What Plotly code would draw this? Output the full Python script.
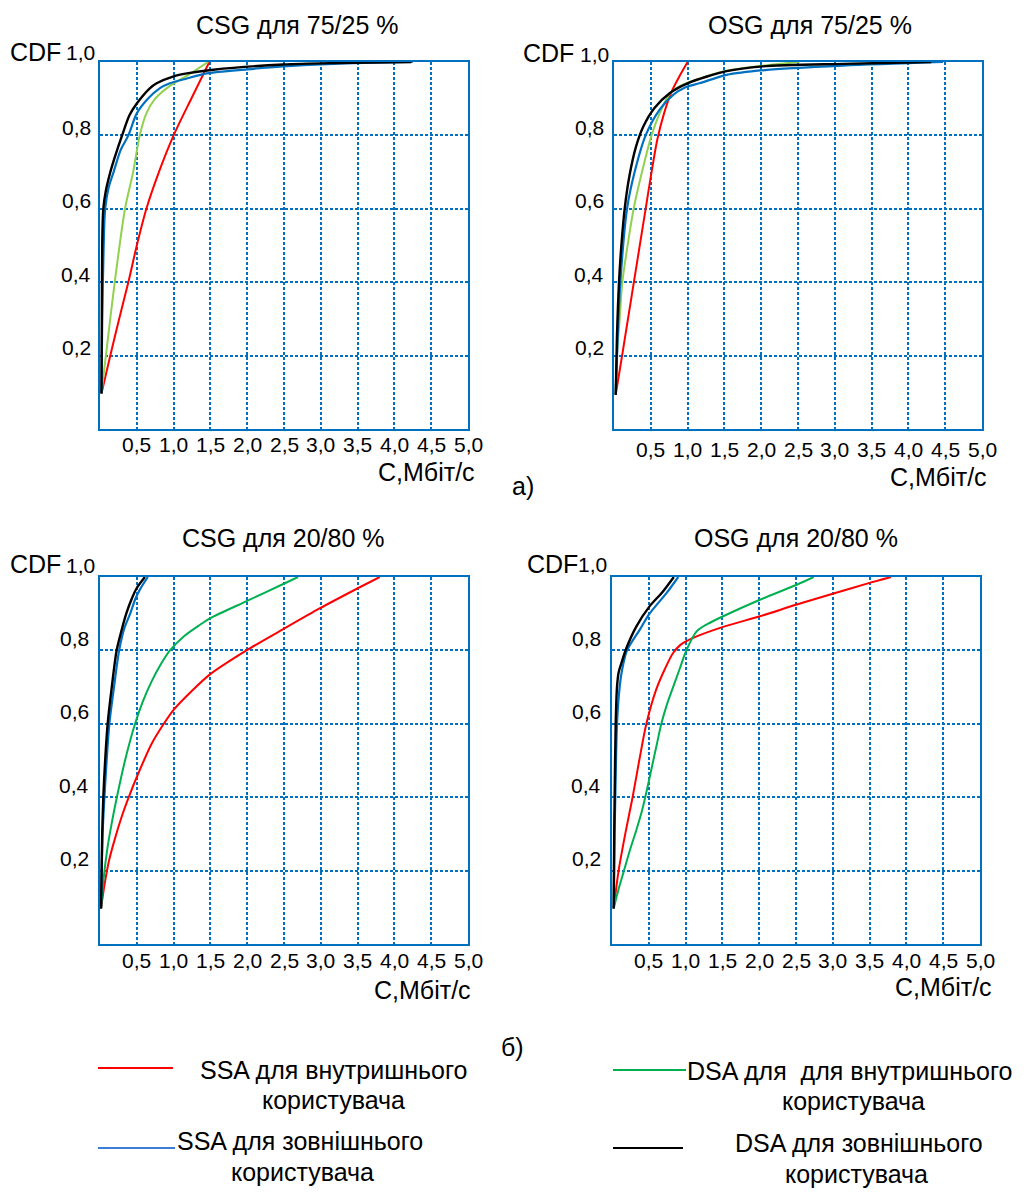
import plotly.graph_objects as go

# ---------------- data ----------------
# Panel a) CSG для 75/25 %
csg75_ssa_in_x = [0.02, 0.14, 0.26, 0.385, 0.5, 0.63, 0.8, 1.0, 1.24, 1.485]
csg75_ssa_in_y = [0.097, 0.2, 0.3, 0.4, 0.5, 0.6, 0.7, 0.8, 0.9, 1.0]
csg75_dsa_in_x = [0.02, 0.05, 0.08, 0.2, 0.34, 0.45, 0.54, 0.63, 0.75, 0.95, 1.2, 1.47]
csg75_dsa_in_y = [0.097, 0.15, 0.2, 0.4, 0.6, 0.7, 0.8, 0.86, 0.9, 0.935, 0.965, 1.0]
csg75_ssa_ex_x = [0.02, 0.03, 0.05, 0.07, 0.12, 0.18, 0.28, 0.385, 0.5, 0.65, 0.815, 0.95, 1.18, 1.45, 2.0, 2.49, 3.17, 4.25]
csg75_ssa_ex_y = [0.097, 0.3, 0.5, 0.6, 0.66, 0.697, 0.76, 0.8, 0.86, 0.9, 0.929, 0.942, 0.955, 0.969, 0.98, 0.988, 0.995, 1.0]
csg75_dsa_ex_x = [0.02, 0.025, 0.03, 0.045, 0.08, 0.136, 0.2, 0.3, 0.4, 0.5, 0.68, 0.77, 1.0, 1.18, 1.54, 2.49, 3.17, 4.23]
csg75_dsa_ex_y = [0.097, 0.3, 0.5, 0.6, 0.65, 0.697, 0.74, 0.8, 0.855, 0.887, 0.929, 0.942, 0.961, 0.969, 0.979, 0.993, 0.997, 1.0]

# Panel a) OSG для 75/25 %
osg75_ssa_in_x = [0.023, 0.11, 0.19, 0.27, 0.35, 0.43, 0.51, 0.59, 0.68, 0.78, 0.9, 1.0]
osg75_ssa_in_y = [0.093, 0.2, 0.3, 0.4, 0.5, 0.6, 0.7, 0.79, 0.86, 0.918, 0.965, 1.0]
osg75_dsa_in_x = [0.023, 0.04, 0.077, 0.113, 0.2, 0.267, 0.38, 0.51, 0.62, 0.756, 0.9, 1.12, 1.5, 2.02, 2.52]
osg75_dsa_in_y = [0.093, 0.2, 0.3, 0.4, 0.52, 0.6, 0.7, 0.8, 0.86, 0.913, 0.935, 0.952, 0.975, 0.99, 1.0]
osg75_ssa_ex_x = [0.023, 0.05, 0.086, 0.177, 0.28, 0.43, 0.62, 0.8, 0.98, 1.16, 1.53, 2.05, 3.11, 4.47]
osg75_ssa_ex_y = [0.093, 0.25, 0.4, 0.6, 0.7, 0.8, 0.87, 0.91, 0.932, 0.942, 0.965, 0.978, 0.99, 1.0]
osg75_dsa_ex_x = [0.023, 0.04, 0.068, 0.1, 0.145, 0.21, 0.3, 0.4, 0.55, 0.756, 1.0, 1.53, 2.02, 3.11, 4.31]
osg75_dsa_ex_y = [0.093, 0.25, 0.4, 0.5, 0.6, 0.69, 0.77, 0.825, 0.875, 0.915, 0.942, 0.975, 0.988, 0.995, 1.0]

# Panel б) CSG для 20/80 %
csg20_ssa_in_x = [0.014, 0.06, 0.12, 0.2, 0.3, 0.4, 0.5, 0.7, 0.86, 1.0, 1.25, 1.49, 1.99, 2.49, 2.99, 3.49, 3.8]
csg20_ssa_in_y = [0.097, 0.16, 0.225, 0.285, 0.35, 0.405, 0.455, 0.545, 0.598, 0.638, 0.69, 0.734, 0.8, 0.858, 0.915, 0.968, 1.0]
csg20_dsa_in_x = [0.014, 0.05, 0.1, 0.16, 0.24, 0.34, 0.476, 0.58, 0.7, 0.82, 0.95, 1.15, 1.36, 1.5, 2.0, 2.49, 2.69]
csg20_dsa_in_y = [0.097, 0.18, 0.26, 0.33, 0.41, 0.5, 0.6, 0.66, 0.715, 0.76, 0.8, 0.84, 0.87, 0.888, 0.935, 0.981, 1.0]
csg20_ssa_ex_x = [0.014, 0.035, 0.06, 0.09, 0.127, 0.19, 0.26, 0.33, 0.41, 0.48, 0.54, 0.65]
csg20_ssa_ex_y = [0.097, 0.3, 0.4, 0.5, 0.6, 0.7, 0.8, 0.86, 0.9, 0.94, 0.965, 1.0]
csg20_dsa_ex_x = [0.014, 0.03, 0.045, 0.07, 0.104, 0.16, 0.226, 0.3, 0.36, 0.43, 0.5, 0.61]
csg20_dsa_ex_y = [0.097, 0.3, 0.4, 0.5, 0.6, 0.7, 0.8, 0.86, 0.902, 0.94, 0.97, 1.0]

# Panel б) OSG для 20/80 %
osg20_ssa_in_x = [0.023, 0.09, 0.18, 0.28, 0.37, 0.467, 0.6, 0.72, 0.83, 0.93, 1.01, 1.15, 1.51, 2.01, 2.51, 3.01, 3.5, 3.79]
osg20_ssa_in_y = [0.097, 0.2, 0.3, 0.4, 0.5, 0.6, 0.693, 0.75, 0.793, 0.815, 0.825, 0.838, 0.864, 0.893, 0.925, 0.955, 0.984, 1.0]
osg20_dsa_in_x = [0.023, 0.09, 0.163, 0.25, 0.33, 0.41, 0.48, 0.55, 0.61, 0.67, 0.75, 0.83, 0.92, 1.01, 1.15, 1.3, 1.51, 2.01, 2.51, 2.74]
osg20_dsa_in_y = [0.097, 0.15, 0.2, 0.26, 0.31, 0.365, 0.425, 0.49, 0.545, 0.6, 0.655, 0.7, 0.75, 0.8, 0.852, 0.872, 0.893, 0.938, 0.979, 1.0]
osg20_ssa_ex_x = [0.023, 0.035, 0.045, 0.068, 0.104, 0.14, 0.204, 0.376, 0.51, 0.74, 0.9]
osg20_ssa_ex_y = [0.097, 0.3, 0.4, 0.6, 0.7, 0.75, 0.8, 0.856, 0.9, 0.956, 1.0]
osg20_dsa_ex_x = [0.023, 0.03, 0.036, 0.05, 0.068, 0.09, 0.127, 0.195, 0.33, 0.51, 0.69, 0.84]
osg20_dsa_ex_y = [0.097, 0.3, 0.4, 0.6, 0.7, 0.74, 0.765, 0.806, 0.865, 0.92, 0.96, 1.0]

panel_titles = ["CSG для 75/25 %", "OSG для 75/25 %", "CSG для 20/80 %", "OSG для 20/80 %"]
x_tick_vals = [0.5, 1.0, 1.5, 2.0, 2.5, 3.0, 3.5, 4.0, 4.5, 5.0]
x_tick_text = ["0,5", "1,0", "1,5", "2,0", "2,5", "3,0", "3,5", "4,0", "4,5", "5,0"]
y_tick_vals = [0.2, 0.4, 0.6, 0.8]
y_tick_text = ["0,2", "0,4", "0,6", "0,8"]
y_top_val = 1.0
y_top_text = "1,0"
y_axis_title = "CDF"
x_axis_title = "C,Мбіт/с"
series_names = ["SSA для внутришнього користувача", "DSA для внутришнього користувача",
                "SSA для зовнішнього користувача", "DSA для зовнішнього користувача"]

# ---------------- styling / layout ----------------
W, H = 1027, 1200
FONT = "Liberation Sans, Arial, sans-serif"
BLUE = "#0070C0"
RED = "#FF0000"
BLACK = "#000000"
LGREEN = "#92D050"
GREEN = "#00B050"

def px(x):
    return x / W

def py(y):
    return 1 - y / H

panels = [
    dict(box=(100, 62, 468, 429), title=(297, 25), xt=(426, 472), cdf=(35.5, 52),
         xdy=-16, ydx=-7, ydy=8, topdx=-3, topdy=9, green=LGREEN,
         data=[(csg75_ssa_in_x, csg75_ssa_in_y), (csg75_dsa_in_x, csg75_dsa_in_y),
               (csg75_ssa_ex_x, csg75_ssa_ex_y), (csg75_dsa_ex_x, csg75_dsa_ex_y)]),
    dict(box=(614, 62, 982, 429), title=(810, 25), xt=(938, 477), cdf=(548, 53),
         xdy=-21, ydx=-8, ydy=8, topdx=-3, topdy=7, green=LGREEN,
         data=[(osg75_ssa_in_x, osg75_ssa_in_y), (osg75_dsa_in_x, osg75_dsa_in_y),
               (osg75_ssa_ex_x, osg75_ssa_ex_y), (osg75_dsa_ex_x, osg75_dsa_ex_y)]),
    dict(box=(100, 577, 468, 944), title=(283, 538), xt=(422, 990), cdf=(35.5, 564),
         xdy=-16, ydx=-9, ydy=12, topdx=-3, topdy=12, green=GREEN,
         data=[(csg20_ssa_in_x, csg20_ssa_in_y), (csg20_dsa_in_x, csg20_dsa_in_y),
               (csg20_ssa_ex_x, csg20_ssa_ex_y), (csg20_dsa_ex_x, csg20_dsa_ex_y)]),
    dict(box=(612, 577, 980, 944), title=(796, 538), xt=(943, 987), cdf=(552.7, 564),
         xdy=-16, ydx=-9, ydy=12, topdx=-3, topdy=13, green=GREEN,
         data=[(osg20_ssa_in_x, osg20_ssa_in_y), (osg20_dsa_in_x, osg20_dsa_in_y),
               (osg20_ssa_ex_x, osg20_ssa_ex_y), (osg20_dsa_ex_x, osg20_dsa_ex_y)]),
]

fig = go.Figure()
annotations = []
layout_axes = {}
bf = dict(family=FONT, size=25, color="black")
tf = dict(family=FONT, size=21, color="black")

for i, p in enumerate(panels):
    n = "" if i == 0 else str(i + 1)
    xa, ya = "x" + n, "y" + n
    x0, y0, x1, y1 = p["box"]
    colors = [RED, p["green"], BLUE, BLACK]
    widths = [2, 2, 2.2, 2.4]
    for k, (xs, ys) in enumerate(p["data"]):
        fig.add_trace(go.Scatter(x=xs, y=ys, mode="lines", xaxis=xa, yaxis=ya,
                                 line=dict(color=colors[k], width=widths[k], shape="spline", smoothing=0.8),
                                 name=series_names[k], showlegend=False, hoverinfo="skip"))
    common = dict(showline=True, linecolor=BLUE, linewidth=2, mirror=True,
                  showgrid=True, gridcolor=BLUE, gridwidth=1.6, griddash="3px,2px",
                  zeroline=False, ticks="", showticklabels=False, fixedrange=True)
    layout_axes["xaxis" + n] = dict(common, domain=[px(x0), px(x1)], range=[0, 5.0],
                                    tick0=0, dtick=0.5, anchor=ya)
    layout_axes["yaxis" + n] = dict(common, domain=[py(y1), py(y0)], range=[0, 1.0],
                                    tick0=0, dtick=0.2, anchor=xa)
    for v, t in zip(x_tick_vals, x_tick_text):
        annotations.append(dict(x=v, y=0, xref=xa, yref=ya, text=t, showarrow=False,
                                xanchor="center", yanchor="middle", yshift=p["xdy"], font=tf))
    for v, t in zip(y_tick_vals, y_tick_text):
        annotations.append(dict(x=0, y=v, xref=xa, yref=ya, text=t, showarrow=False,
                                xanchor="right", yanchor="middle", xshift=p["ydx"], yshift=p["ydy"], font=tf))
    annotations.append(dict(x=0, y=y_top_val, xref=xa, yref=ya, text=y_top_text, showarrow=False,
                            xanchor="right", yanchor="middle", xshift=p["topdx"], yshift=p["topdy"], font=tf))
    annotations.append(dict(x=px(p["cdf"][0]), y=py(p["cdf"][1]), xref="paper", yref="paper",
                            text=y_axis_title, showarrow=False, xanchor="center", yanchor="middle", font=bf))
    annotations.append(dict(x=px(p["title"][0]), y=py(p["title"][1]), xref="paper", yref="paper",
                            text=panel_titles[i], showarrow=False, xanchor="center", yanchor="middle", font=bf))
    annotations.append(dict(x=px(p["xt"][0]), y=py(p["xt"][1]), xref="paper", yref="paper",
                            text=x_axis_title, showarrow=False, xanchor="center", yanchor="middle", font=bf))

for (tx, ty, t) in [(523, 486, "а)"), (512, 1047, "б)")]:
    annotations.append(dict(x=px(tx), y=py(ty), xref="paper", yref="paper", text=t,
                            showarrow=False, xanchor="center", yanchor="middle", font=bf))

# legend (drawn manually as in the original figure)
legend_items = [
    dict(color=RED, line=(98, 173, 1068), lines=[("SSA для внутришнього", 333, 1070), ("користувача", 333, 1100)]),
    dict(color=GREEN, line=(613, 686, 1070), lines=[("DSA для\u00a0 для внутришнього", 849, 1071), ("користувача", 853, 1101)]),
    dict(color="#3A7FD5", line=(98, 175, 1148), lines=[("SSA для зовнішнього", 300, 1141), ("користувача", 302, 1172)]),
    dict(color=BLACK, line=(613, 683, 1148), lines=[("DSA для зовнішнього", 859, 1143), ("користувача", 856, 1174)]),
]
shapes = []
for it in legend_items:
    lx0, lx1, ly = it["line"]
    shapes.append(dict(type="line", xref="paper", yref="paper", x0=px(lx0), x1=px(lx1),
                       y0=py(ly), y1=py(ly), line=dict(color=it["color"], width=2)))
    for (t, tx, ty) in it["lines"]:
        annotations.append(dict(x=px(tx), y=py(ty), xref="paper", yref="paper", text=t,
                                showarrow=False, xanchor="center", yanchor="middle", font=bf))

fig.update_layout(width=W, height=H, margin=dict(l=0, r=0, t=0, b=0),
                  paper_bgcolor="white", plot_bgcolor="white", showlegend=False,
                  annotations=annotations, shapes=shapes, **layout_axes)

fig.write_html("out.html", config=dict(displayModeBar=False))
